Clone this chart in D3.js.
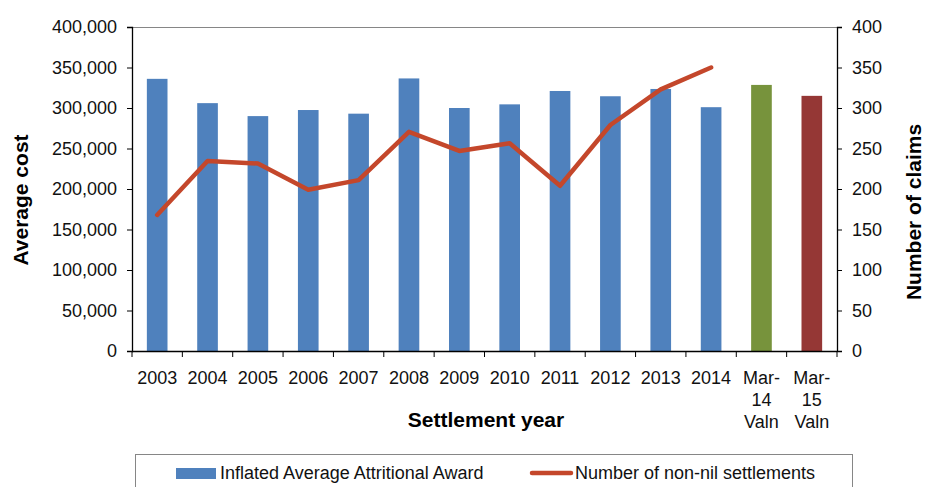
<!DOCTYPE html>
<html>
<head>
<meta charset="utf-8">
<script src="https://cdn.jsdelivr.net/npm/d3@7"></script>
<style>
  html, body { margin: 0; padding: 0; background: #fff; }
  svg { display: block; font-family: "Liberation Sans", Arial, sans-serif; }
</style>
</head>
<body>
<svg id="chart" width="927" height="487"></svg>
<script>
const categories = ["2003","2004","2005","2006","2007","2008","2009","2010","2011","2012","2013","2014","Mar-14 Valn","Mar-15 Valn"];
const categoryLines = [["2003"],["2004"],["2005"],["2006"],["2007"],["2008"],["2009"],["2010"],["2011"],["2012"],["2013"],["2014"],["Mar-","14","Valn"],["Mar-","15","Valn"]];
const avgCost = [336000, 306000, 290000, 297500, 293000, 336500, 300000, 304500, 321000, 314500, 323500, 301000, 328500, 315000];
const barColors = ["#4F81BD","#4F81BD","#4F81BD","#4F81BD","#4F81BD","#4F81BD","#4F81BD","#4F81BD","#4F81BD","#4F81BD","#4F81BD","#4F81BD","#77933C","#953735"];
const lineCategories = ["2003","2004","2005","2006","2007","2008","2009","2010","2011","2012","2013","2014"];
const claims = [168, 234.5, 231.5, 199, 211, 270.5, 247, 256.5, 204, 279, 323, 350];
const leftTicks = [0, 50000, 100000, 150000, 200000, 250000, 300000, 350000, 400000];
const rightTicks = [0, 50, 100, 150, 200, 250, 300, 350, 400];

const svg = d3.select("#chart");
const L = 132, R = 837, T = 27, B = 351;

const x = d3.scaleBand().domain(categories).range([L, R]).padding(0);
const yL = d3.scaleLinear().domain([0, 400000]).range([B, T]);
const yR = d3.scaleLinear().domain([0, 400]).range([B, T]);
const barW = x.bandwidth() * 0.41;

// top border
svg.append("line").attr("x1", L).attr("x2", R).attr("y1", T + 0.5).attr("y2", T + 0.5)
  .attr("stroke", "#868686").attr("stroke-width", 1);

// bars
svg.append("g").selectAll("rect").data(avgCost).join("rect")
  .attr("x", (d, i) => x(categories[i]) + (x.bandwidth() - barW) / 2)
  .attr("y", d => yL(d))
  .attr("width", barW)
  .attr("height", d => B - yL(d))
  .attr("fill", (d, i) => barColors[i]);

// line
const line = d3.line()
  .x((d, i) => x(lineCategories[i]) + x.bandwidth() / 2)
  .y(d => yR(d));
svg.append("path").datum(claims)
  .attr("d", line)
  .attr("fill", "none")
  .attr("stroke", "#C4472B")
  .attr("stroke-width", 4.5)
  .attr("stroke-linejoin", "round")
  .attr("stroke-linecap", "round");

// left axis
const fmt = d3.format(",");
const gL = svg.append("g").attr("transform", `translate(${L},0)`)
  .call(d3.axisLeft(yL).tickValues(leftTicks).tickFormat(fmt).tickSize(5).tickPadding(10));
// right axis
const gR = svg.append("g").attr("transform", `translate(${R},0)`)
  .call(d3.axisRight(yR).tickValues(rightTicks).tickSize(5).tickPadding(10));
// bottom axis
const gB = svg.append("g").attr("transform", `translate(0,${B})`)
  .call(d3.axisBottom(x).tickSize(0).tickFormat(""));

[gL, gR, gB].forEach(g => {
  g.select(".domain").attr("stroke", "#000").attr("stroke-width", 1.3);
  g.selectAll(".tick line").attr("stroke", "#000");
  g.selectAll(".tick text").attr("font-size", 18).attr("fill", "#111")
    .attr("font-family", "'Liberation Sans', Arial, sans-serif");
});
gB.select(".domain").attr("d", `M${L},0.5H${R}`);

// bottom tick marks at band edges
const edges = categories.map(c => x(c)).concat([R]);
svg.append("g").selectAll("line").data(edges).join("line")
  .attr("x1", d => d).attr("x2", d => d)
  .attr("y1", B).attr("y2", B + 6)
  .attr("stroke", "#000").attr("stroke-width", 1);

// category labels
const catG = svg.append("g").attr("font-size", 18).attr("fill", "#111").attr("text-anchor", "middle");
categoryLines.forEach((lines, i) => {
  const cx = x(categories[i]) + x.bandwidth() / 2;
  const t = catG.append("text").attr("x", cx).attr("y", 384);
  lines.forEach((ln, j) => {
    t.append("tspan").attr("x", cx).attr("y", 384 + j * 22).text(ln);
  });
});

// axis titles
svg.append("text").attr("transform", "translate(28,200) rotate(-90)")
  .attr("text-anchor", "middle").attr("font-size", 21).attr("font-weight", "bold")
  .text("Average cost");
svg.append("text").attr("transform", "translate(921,212) rotate(-90)")
  .attr("text-anchor", "middle").attr("font-size", 21).attr("font-weight", "bold")
  .text("Number of claims");
svg.append("text").attr("x", 486).attr("y", 427)
  .attr("text-anchor", "middle").attr("font-size", 21).attr("font-weight", "bold")
  .text("Settlement year");

// legend
const lg = svg.append("g");
lg.append("rect").attr("x", 135.5).attr("y", 454.5).attr("width", 717).attr("height", 60)
  .attr("fill", "#fff").attr("stroke", "#868686").attr("stroke-width", 1);
lg.append("rect").attr("x", 176).attr("y", 468).attr("width", 40).attr("height", 11).attr("fill", "#4F81BD");
lg.append("text").attr("x", 220).attr("y", 479).attr("font-size", 18).attr("fill", "#111")
  .text("Inflated Average Attritional Award");
lg.append("line").attr("x1", 532).attr("x2", 571).attr("y1", 473).attr("y2", 473)
  .attr("stroke", "#C4472B").attr("stroke-width", 4.5).attr("stroke-linecap", "round");
lg.append("text").attr("x", 575).attr("y", 479).attr("font-size", 18).attr("fill", "#111")
  .text("Number of non-nil settlements");
</script>
</body>
</html>
